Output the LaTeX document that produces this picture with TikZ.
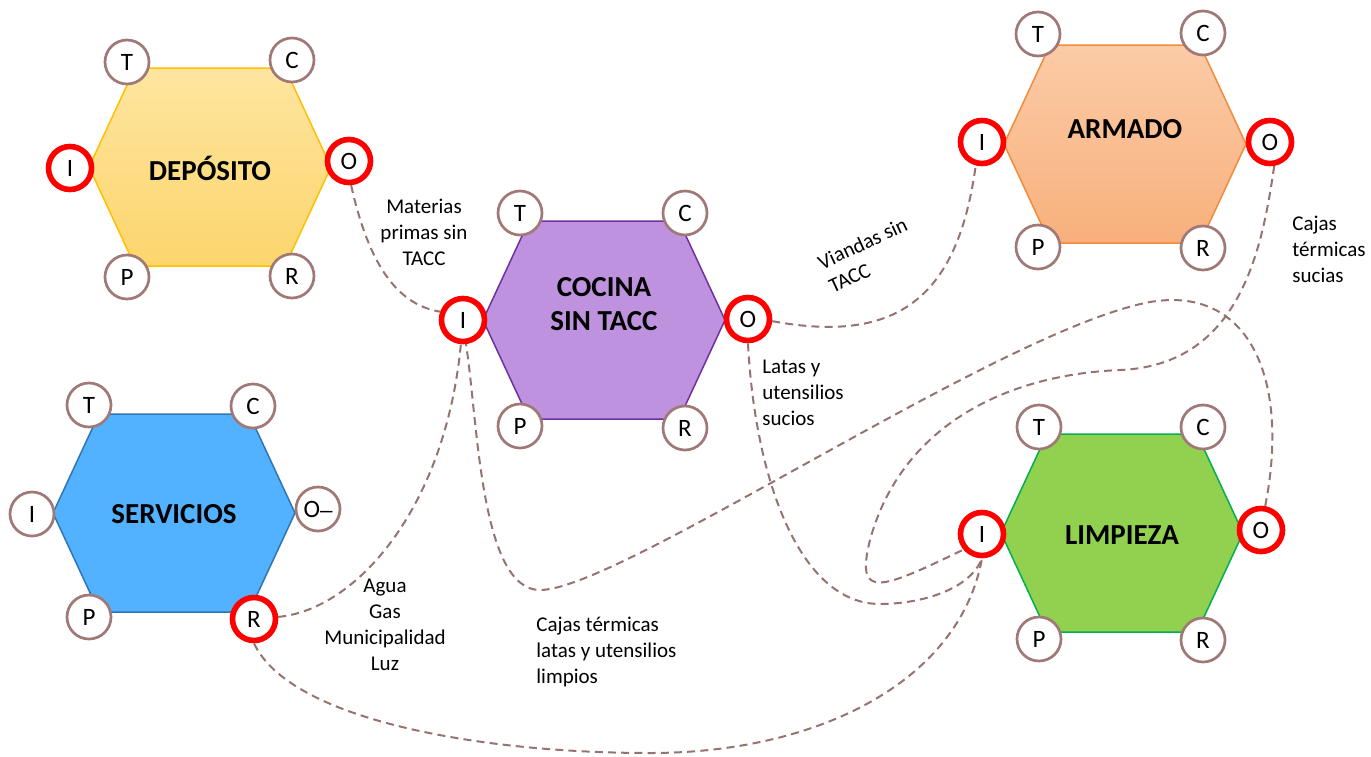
\documentclass[tikz,border=0pt]{standalone}
\usepackage{fontspec}
\setmainfont{Carlito}
\definecolor{portbrown}{RGB}{160,120,118}
\definecolor{flowbrown}{RGB}{150,115,112}
\definecolor{dTop}{RGB}{254,229,160}
\definecolor{dBot}{RGB}{252,213,108}
\definecolor{dLine}{RGB}{255,192,0}
\definecolor{aTop}{RGB}{251,203,167}
\definecolor{aBot}{RGB}{248,176,124}
\definecolor{aLine}{RGB}{240,140,60}
\definecolor{cFill}{RGB}{190,146,222}
\definecolor{cLine}{RGB}{112,48,160}
\definecolor{sFill}{RGB}{82,178,255}
\definecolor{sLine}{RGB}{46,117,182}
\definecolor{lFill}{RGB}{146,208,80}
\definecolor{lLine}{RGB}{0,176,80}
\begin{document}
\begin{tikzpicture}[x=0.5pt,y=-0.5pt,
  hexa/.style={line width=0.75pt, line join=round},
  port/.style={circle, draw=portbrown, line width=1.35pt, fill=white,
    minimum size=22pt, inner sep=0pt, font=\fontsize{12.5}{14}\selectfont},
  redport/.style={port, draw=red, line width=2.8pt, minimum size=21.5pt},
  hexlabel/.style={font=\fontsize{14.5}{17}\selectfont\bfseries, align=center, inner sep=0pt},
  flow/.style={draw=flowbrown, line width=1pt, dash pattern=on 4pt off 2.6pt},
  note/.style={font=\fontsize{10.5}{13}\selectfont, inner sep=0pt}
]
\useasboundingbox (0,0) rectangle (1371,756);

% hexagons
\path[hexa, draw=dLine, top color=dTop, bottom color=dBot]
  (210,167) +(-121,0) -- +(-75,-99) -- +(75,-99) -- +(121,0) -- +(75,99) -- +(-75,99) -- cycle;
\path[hexa, draw=cLine, fill=cFill]
  (604,320) +(-121,0) -- +(-75,-99) -- +(75,-99) -- +(121,0) -- +(75,99) -- +(-75,99) -- cycle;
\path[hexa, draw=aLine, top color=aTop, bottom color=aBot]
  (1125,144) +(-121,0) -- +(-75,-99) -- +(75,-99) -- +(121,0) -- +(75,99) -- +(-75,99) -- cycle;
\path[hexa, draw=sLine, fill=sFill]
  (174,513) +(-121,0) -- +(-75,-99) -- +(75,-99) -- +(121,0) -- +(75,99) -- +(-75,99) -- cycle;
\path[hexa, draw=lLine, fill=lFill]
  (1122,533) +(-121,0) -- +(-75,-99) -- +(75,-99) -- +(121,0) -- +(75,99) -- +(-75,99) -- cycle;

% hexagon labels
\node[hexlabel] (dlab) at (210,168) {DEPÓSITO};
\node[hexlabel] (clab) at (604,304) {COCINA\\SIN TACC};
\node[hexlabel] (alab) at (1125,129) {ARMADO};
\node[hexlabel] (slab) at (174,514) {SERVICIOS};
\node[hexlabel] (llab) at (1122,535) {LIMPIEZA};

% ports DEPOSITO
\node[port] (dT) at (127,62) {T};
\node[port] (dC) at (292,60) {C};
\node[port] (dP) at (127,277) {P};
\node[port] (dR) at (292,276) {R};
\node[redport] (dI) at (70,168) {I};
\node[redport] (dO) at (349,161) {O};
% ports COCINA
\node[port] (cT) at (520,213) {T};
\node[port] (cC) at (685,213) {C};
\node[port] (cP) at (520,426) {P};
\node[port] (cR) at (685,428) {R};
\node[redport] (cI) at (463,320) {I};
\node[redport] (cO) at (748,319) {O};
% ports ARMADO
\node[port] (aT) at (1038,34) {T};
\node[port] (aC) at (1203,33) {C};
\node[port] (aP) at (1038,247) {P};
\node[port] (aR) at (1203,248) {R};
\node[redport] (aI) at (982,142) {I};
\node[redport] (aO) at (1270,142) {O};
% ports SERVICIOS
\node[port] (sT) at (89,405) {T};
\node[port] (sC) at (253,406) {C};
\node[port] (sP) at (89,617) {P};
\node[redport] (sR) at (254,619) {R};
\node[port] (sI) at (32,514) {I};
\node[port] (sO) at (318,509) {O\raisebox{0.3em}{\_}};
% ports LIMPIEZA
\node[port] (lT) at (1039,427) {T};
\node[port] (lC) at (1203,427) {C};
\node[port] (lP) at (1039,639) {P};
\node[port] (lR) at (1203,640) {R};
\node[redport] (lI) at (982,534) {I};
\node[redport] (lO) at (1261,530) {O};

% notes
\node[note, align=center] (n1) at (424,232) {Materias\\primas sin\\TACC};
\node[note, align=left, rotate=25] (n2) at (868,255) {Viandas sin\\TACC};
\node[note, align=left, anchor=west] (n3) at (1292,249) {Cajas\\térmicas\\sucias};
\node[note, align=left, anchor=west] (n4) at (762,393) {Latas y\\utensilios\\sucios};
\node[note, align=center] (n5) at (385,625) {Agua\\Gas\\Municipalidad\\Luz};
\node[note, align=left, anchor=west] (n6) at (536,652) {Cajas térmicas\\latas y utensilios\\limpios};

% flows
\draw[flow] (dO.-85) .. controls (370,270) and (400,305) .. (cI.160);
\draw[flow] (cO.-5) .. controls (900,345) and (958,295) .. (aI.-105);
\draw[flow] (aO.-80) .. controls (1262,250) and (1240,365) .. (1120,370)
  .. controls (1000,375) and (900,430) .. (870,540)
  .. controls (855,600) and (880,590) .. (lI.-140);
\draw[flow] (lO.80) .. controls (1290,380) and (1250,285) .. (1150,302)
  .. controls (1000,330) and (620,590) .. (540,590)
  .. controls (480,590) and (478,420) .. (cI.-83);
\draw[flow] (cO.-90) .. controls (755,480) and (800,604) .. (880,604)
  .. controls (920,604) and (970,590) .. (lI.-90);
\draw[flow] (sR.5) .. controls (355,610) and (445,510) .. (cI.-95);
\draw[flow] (sR.-90) .. controls (290,720) and (480,753) .. (650,753)
  .. controls (820,753) and (960,680) .. (lI.-90);
\end{tikzpicture}
\end{document}
